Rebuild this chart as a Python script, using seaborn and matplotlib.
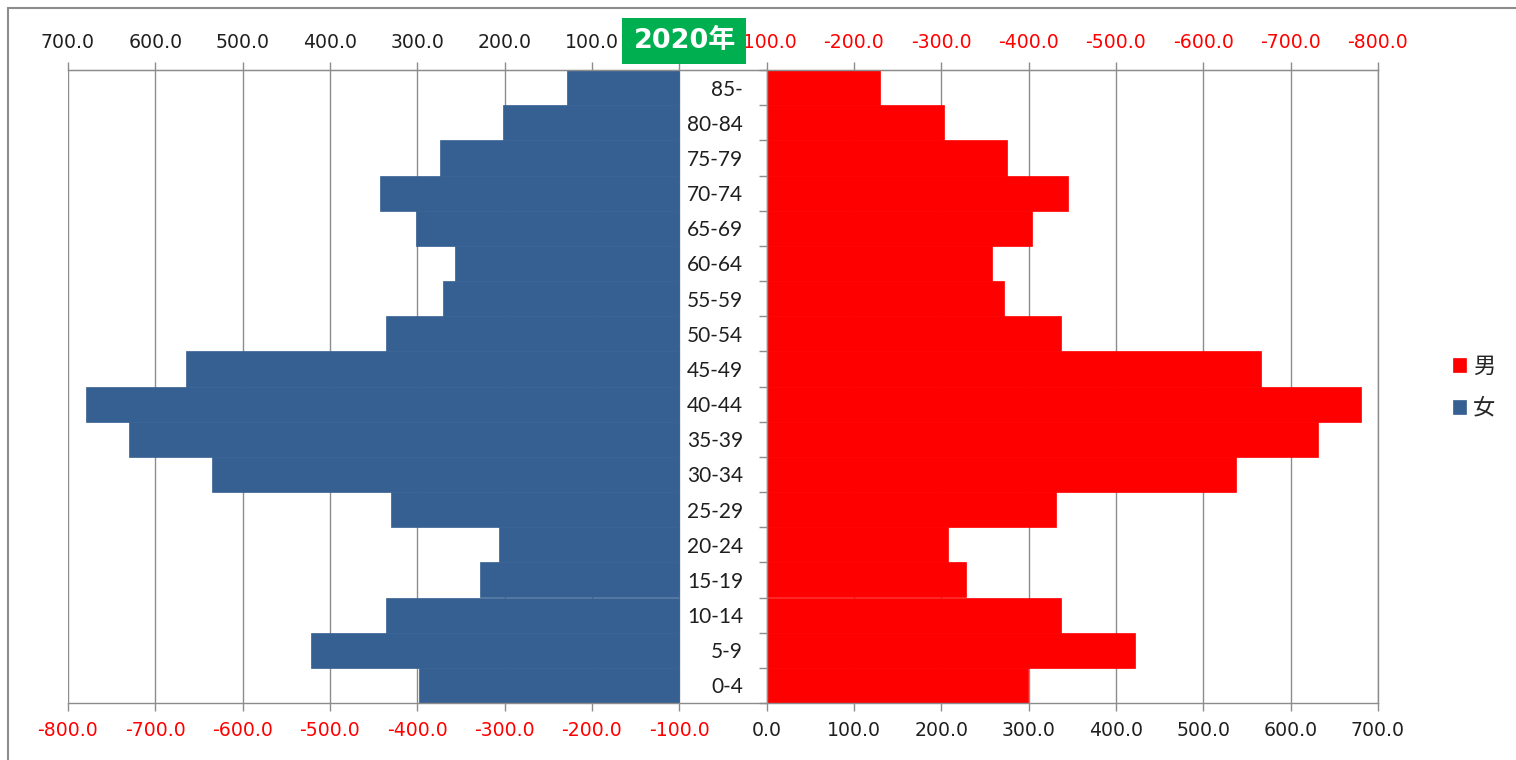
import matplotlib

matplotlib.use("Agg")

import numpy as np
import pandas as pd
import seaborn as sns
from matplotlib import pyplot as plt
from matplotlib.patches import Rectangle

# population by age group, top row of the pyramid first
age_groups = [
    "85-", "80-84", "75-79", "70-74", "65-69", "60-64", "55-59", "50-54",
    "45-49", "40-44", "35-39", "30-34", "25-29", "20-24", "15-19",
    "10-14", "5-9", "0-4",
]
female = [
    128.6, 201.9, 274.0, 342.7, 301.5, 256.9, 270.6, 335.8,
    564.8, 679.3, 630.1, 535.1, 330.1, 206.5, 228.2,
    335.8, 421.7, 298.1,
]
male = [
    129.7, 203.0, 275.1, 344.9, 303.7, 257.9, 271.7, 337.0,
    566.0, 680.5, 631.3, 537.4, 331.3, 207.6, 228.2,
    337.0, 421.7, 299.2,
]
legend_labels = ["男", "女"]
year_label = "2020年"

# shared axis: female bars start at -100, male bars at 0
bottom_ticks = list(range(-800, 800, 100))
FEMALE_OFFSET = -100

FEMALE_COLOR = "#376092"
MALE_COLOR = "#FF0000"
BADGE_COLOR = "#00B050"
GRID_COLOR = "#8C8C8C"
TEXT_COLOR = "#1F1F1F"

W, H = 1516, 760


def flip(x):
    """Top axis reading: female values on the left, unused values on the right."""
    return -np.asarray(x) - 100


sns.set_style("white")
plt.rcParams["font.family"] = ["DejaVu Sans", "Noto Sans CJK JP"]

df = pd.DataFrame({"age": age_groups, "female": female, "male": male})
df["female_neg"] = -df["female"]

fig = plt.figure(figsize=(W / 100, H / 100), dpi=100)
ax = fig.add_axes([68 / W, 57 / H, 1310 / W, 633 / H])

sns.barplot(
    data=df, y="age", x="female_neg", orient="y", order=age_groups,
    color=FEMALE_COLOR, saturation=1, width=1, errorbar=None,
    edgecolor=FEMALE_COLOR, linewidth=0.5, left=FEMALE_OFFSET, ax=ax,
)
sns.barplot(
    data=df, y="age", x="male", orient="y", order=age_groups,
    color=MALE_COLOR, saturation=1, width=1, errorbar=None,
    edgecolor=MALE_COLOR, linewidth=0.5, ax=ax,
)

ax.set_xlim(-800, 700)
ax.set_ylim(len(age_groups) - 0.5, -0.5)
ax.set_xlabel("")
ax.set_ylabel("")

# grid + frame
ax.set_axisbelow(True)
ax.xaxis.grid(True, color=GRID_COLOR, linewidth=1)
ax.yaxis.grid(False)
for side in ("top", "bottom", "right"):
    ax.spines[side].set_color(GRID_COLOR)
    ax.spines[side].set_linewidth(1)
ax.spines["left"].set_position(("data", 0))
ax.spines["left"].set_color(GRID_COLOR)
ax.spines["left"].set_linewidth(1)
ax.spines["left"].set_zorder(3)

# bottom axis
ax.set_xticks(bottom_ticks, labels=[f"{t:.1f}" for t in bottom_ticks])
ax.tick_params(
    axis="x", which="major", bottom=True, direction="out", length=6,
    width=1, color=GRID_COLOR, labelsize=13.6, pad=7,
)
for lbl, t in zip(ax.get_xticklabels(), bottom_ticks):
    lbl.set_color(MALE_COLOR if t < 0 else TEXT_COLOR)

# age labels on the male baseline
ax.set_yticks(np.arange(-0.5, len(age_groups), 1), minor=True)
ax.tick_params(axis="y", which="major", left=True, length=0, pad=17)
ax.tick_params(
    axis="y", which="minor", left=True, direction="out", length=6,
    width=1, color=GRID_COLOR,
)
for lbl in ax.get_yticklabels():
    lbl.set_fontfamily("Lato")
    lbl.set_fontsize(15)
    lbl.set_color(TEXT_COLOR)

# top axis (the 0.0 label sits under the year badge, so leave it blank)
top = ax.secondary_xaxis("top", functions=(flip, flip))
top_ticks = [-t - 100 for t in bottom_ticks]
top.set_xticks(top_ticks, labels=["" if t == 0 else f"{t:.1f}" for t in top_ticks])
top.tick_params(
    axis="x", direction="out", length=6, width=1, color=GRID_COLOR,
    labelsize=13.6, pad=7,
)
top.spines["top"].set_color(GRID_COLOR)
for lbl, t in zip(top.get_xticklabels(), top_ticks):
    lbl.set_color(MALE_COLOR if t < 0 else TEXT_COLOR)

# legend
fig.legend(
    handles=[ax.containers[1], ax.containers[0]],
    labels=legend_labels,
    loc="center left",
    bbox_to_anchor=(1453 / W, 1 - 387 / H),
    frameon=False,
    prop={"family": "Noto Sans CJK JP", "size": 16},
    handlelength=0.6,
    handleheight=0.6,
    handletextpad=0.3,
    labelspacing=0.85,
    borderpad=0,
    borderaxespad=0,
)

# year badge
fig.add_artist(Rectangle(
    (622 / W, 1 - 64 / H), 124 / W, 46 / H,
    transform=fig.transFigure, facecolor=BADGE_COLOR, edgecolor="none",
    zorder=5,
))
fig.text(
    685 / W, 1 - 41 / H, year_label, color="white", fontsize=19.5,
    fontweight="bold", ha="center", va="center", zorder=6,
    family=["DejaVu Sans", "Noto Sans CJK JP"],
)

# outer frame
fig.add_artist(Rectangle(
    (8 / W, -0.05), 1.2, 1.05 - 8 / H,
    transform=fig.transFigure, fill=False, edgecolor=GRID_COLOR,
    linewidth=1.5, zorder=1,
))

fig.savefig("out.png", dpi=100)
